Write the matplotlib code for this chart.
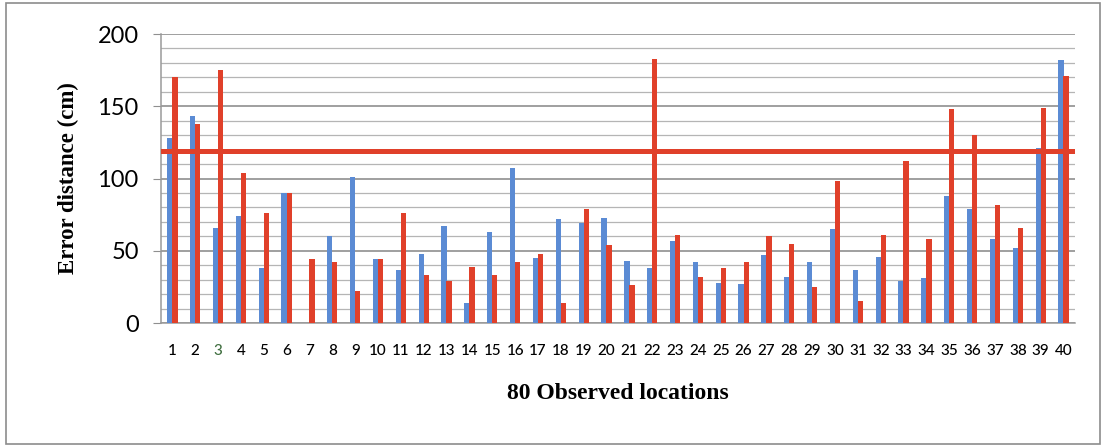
import matplotlib
matplotlib.use("Agg")
import matplotlib.pyplot as plt
from matplotlib.patches import Rectangle
import numpy as np

# Error distance per observed location (cm), two methods
locations = list(range(1, 41))
series_blue = [128, 143, 66, 74, 38, 90, 0, 60, 101, 44,
               37, 48, 67, 14, 63, 107, 45, 72, 69, 73,
               43, 38, 57, 42, 28, 27, 47, 32, 42, 65,
               37, 46, 29, 31, 88, 79, 58, 52, 121, 182]
series_red = [170, 138, 175, 104, 76, 90, 44, 42, 22, 44,
              76, 33, 29, 39, 33, 42, 48, 14, 79, 54,
              26, 183, 61, 32, 38, 42, 60, 55, 25, 98,
              15, 61, 112, 58, 148, 130, 82, 66, 149, 171]
threshold = 119
y_ticks = [0, 50, 100, 150, 200]

BLUE = "#5B8BD4"
RED = "#E0402A"

fig = plt.figure(figsize=(11.04, 4.47), dpi=100)
ax = fig.add_axes([0.1458, 0.2774, 0.8279, 0.6465])

x = np.array(locations, dtype=float)
w = 0.23
ax.bar(x - 0.11, series_blue, width=w, color=BLUE, zorder=3)
ax.bar(x + 0.11, series_red, width=w, color=RED, zorder=3)
ax.axhline(threshold, color=RED, lw=3.6, zorder=4)

ax.set_xlim(0.5, 40.5)
ax.set_ylim(0, 200)
ax.set_yticks(y_ticks)
ax.set_yticks(np.arange(0, 201, 10), minor=True)
ax.set_xticks(x)
ax.set_xticklabels([str(v) for v in locations], fontfamily="Lato",
                   fontsize=11, fontweight="medium")
ax.set_yticklabels([str(v) for v in y_ticks], fontfamily="Lato", fontsize=17)
ax.get_xticklabels()[2].set_color("#3f6e3f")

ax.grid(axis="y", which="major", color="#8f8f8f", lw=1.2, zorder=0)
ax.grid(axis="y", which="minor", color="#b5b5b5", lw=0.9, zorder=0)
ax.tick_params(axis="y", which="major", length=6, color="#8f8f8f", pad=10)
ax.tick_params(axis="y", which="minor", length=0)
ax.tick_params(axis="x", length=0, pad=15)
for s in ["top", "right"]:
    ax.spines[s].set_visible(False)
for s in ["left", "bottom"]:
    ax.spines[s].set_color("#9a9a9a")
    ax.spines[s].set_linewidth(1.1)
ax.set_axisbelow(True)

ax.set_ylabel("Error distance (cm)", fontfamily="Liberation Serif",
              fontweight="bold", fontsize=16.5, labelpad=13)
ax.set_xlabel("80 Observed locations", fontfamily="Liberation Serif",
              fontweight="bold", fontsize=17, labelpad=18)

# outer frame of the chart area
fig.patches.append(Rectangle((6 / 1104, 3 / 447), 1094 / 1104, 441 / 447,
                             transform=fig.transFigure, fill=False,
                             edgecolor="#8c8c8c", lw=1.2))

fig.savefig("out.png", dpi=100)
